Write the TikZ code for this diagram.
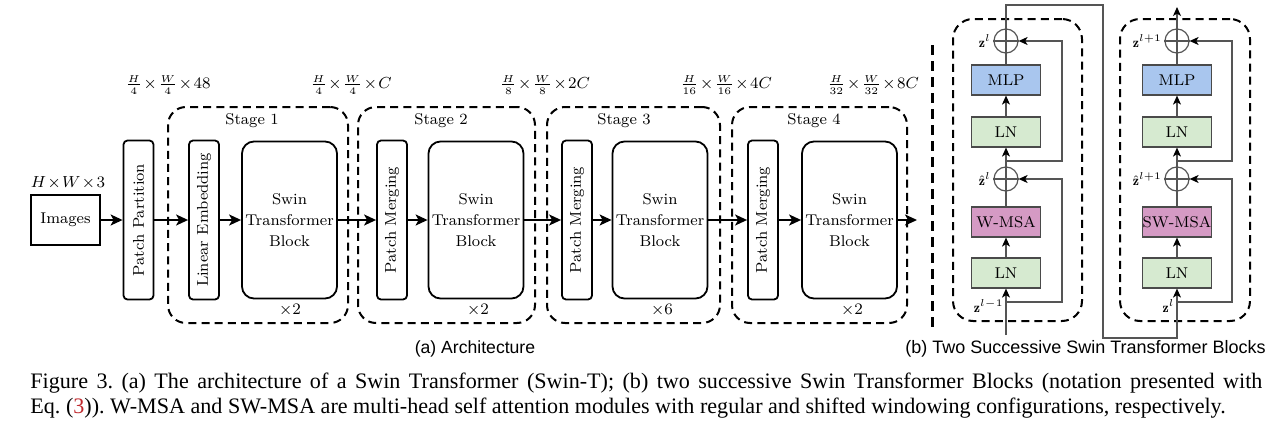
\documentclass[tikz,border=0pt]{standalone}
\usepackage{fontspec}
\newfontfamily\capfont{Liberation Serif}
\newfontfamily\subfont{Liberation Sans}
\usetikzlibrary{arrows.meta,calc}
\definecolor{mlpfill}{HTML}{A9C6EE}
\definecolor{lnfill}{HTML}{D6EAD0}
\definecolor{msafill}{HTML}{D59AC4}
\definecolor{bordergray}{HTML}{4A4A4A}
\definecolor{linegray}{HTML}{555555}
\definecolor{refred}{HTML}{C0282D}
\newcommand\tightmath[1]{$\medmuskip=1.5mu #1$}
\frenchspacing
\begin{document}
\begin{tikzpicture}[x=0.5pt,y=-0.5pt,
  diag/.style={font=\fontsize{7.8}{10.5}\selectfont},
  dimlabel/.style={font=\fontsize{7.6}{9}\selectfont, inner sep=0pt},
  imgbox/.style={draw, line width=0.9pt, minimum width=34.5pt, minimum height=25pt, inner sep=0pt, diag},
  tallbox/.style={draw, line width=0.9pt, rounded corners=2pt, rotate=90, minimum width=79.5pt, minimum height=15pt, inner sep=0pt, diag},
  swinbox/.style={draw, line width=0.9pt, rounded corners=6pt, minimum width=47.5pt, minimum height=78.5pt, inner sep=0pt, align=center, diag},
  stagebox/.style={draw, line width=1pt, dash pattern=on 4pt off 2.6pt, rounded corners=9pt, minimum height=108pt, inner sep=0pt},
  mainarrow/.style={line width=0.9pt, -{Stealth[length=6pt,width=5.5pt,inset=1.5pt]}},
  blk/.style={draw=bordergray, line width=0.6pt, minimum width=34.5pt, minimum height=15pt, inner sep=0pt, font=\fontsize{7.8}{9}\selectfont},
  addnode/.style={circle, draw=linegray, line width=0.6pt, minimum size=12pt, inner sep=0pt},
  flow/.style={draw=linegray, line width=0.6pt},
  flowarrow/.style={flow, -{Stealth[length=4.5pt,width=4pt,inset=1.2pt,color=black]}},
  blockdash/.style={draw, line width=1pt, dash pattern=on 4pt off 2.6pt, rounded corners=10pt, minimum width=64.5pt, minimum height=151pt, inner sep=0pt},
  zlabel/.style={font=\fontsize{7}{8}\selectfont, inner sep=1pt},
  sublabel/.style={inner sep=0pt},
]
\fill[white] (0,0) rectangle (1282,428);
\path[use as bounding box] (0,0) rectangle (1282,428);

% ---------- (a) Architecture ----------
\node[stagebox, minimum width=90pt]   (st1) at (258,215) {};
\node[stagebox, minimum width=88.5pt] (st2) at (446.5,215) {};
\node[stagebox, minimum width=86.5pt] (st3) at (633.5,215) {};
\node[stagebox, minimum width=87.5pt] (st4) at (819.5,215) {};
\node[diag] (st1l) at (252,121) {Stage 1};
\node[diag] (st2l) at (441,121) {Stage 2};
\node[diag] (st3l) at (624,121) {Stage 3};
\node[diag] (st4l) at (814,121) {Stage 4};

\node[imgbox] (img) at (65.5,220) {Images};
\node[inner sep=0pt, font=\fontsize{8.2}{9}\selectfont] (imgdim) at (68,183) {\tightmath{H\times W\times 3}};
\node[tallbox] (pp) at (138.5,220) {Patch Partition};
\node[tallbox] (le) at (204,220) {Linear Embedding};
\node[swinbox] (s1) at (289.5,220) {Swin\\Transformer\\Block};
\node[tallbox] (pm2) at (392,220) {Patch Merging};
\node[swinbox] (s2) at (476,220) {Swin\\Transformer\\Block};
\node[tallbox] (pm3) at (577,220) {Patch Merging};
\node[swinbox] (s3) at (660,220) {Swin\\Transformer\\Block};
\node[tallbox] (pm4) at (763,220) {Patch Merging};
\node[swinbox] (s4) at (849.5,220) {Swin\\Transformer\\Block};
\coordinate (out) at (917,220);

\node[diag] (r1) at (290,310) {$\times 2$};
\node[diag] (r2) at (478,310) {$\times 2$};
\node[diag] (r3) at (662,310) {$\times 6$};
\node[diag] (r4) at (852,310) {$\times 2$};

\node[dimlabel] (d1) at (168,85) {\tightmath{\frac{H}{4}\times\frac{W}{4}\times 48}};
\node[dimlabel] (d2) at (351,85) {\tightmath{\frac{H}{4}\times\frac{W}{4}\times C}};
\node[dimlabel] (d3) at (545,85) {\tightmath{\frac{H}{8}\times\frac{W}{8}\times 2C}};
\node[dimlabel] (d4) at (726,85) {\tightmath{\frac{H}{16}\times\frac{W}{16}\times 4C}};
\node[dimlabel] (d5) at (873,85) {\tightmath{\frac{H}{32}\times\frac{W}{32}\times 8C}};

\draw[mainarrow] (img) -- (pp);
\draw[mainarrow] (pp) -- (le);
\draw[mainarrow] (le) -- (s1);
\draw[mainarrow] (s1) -- (pm2);
\draw[mainarrow] (pm2) -- (s2);
\draw[mainarrow] (s2) -- (pm3);
\draw[mainarrow] (pm3) -- (s3);
\draw[mainarrow] (s3) -- (pm4);
\draw[mainarrow] (pm4) -- (s4);
\draw[mainarrow] (s4) -- (out);

\node[sublabel, font=\subfont\fontsize{8.8}{10}\selectfont] (suba) at (475,349) {(a) Architecture};

% separator
\coordinate (sepT) at (932,45);
\coordinate (sepB) at (932,327);
\draw[line width=1.5pt, dash pattern=on 5pt off 3pt] (sepT) -- (sepB);

% ---------- (b) Two successive blocks ----------
\node[blockdash] (bdA) at (1017.5,170) {};
\node[blockdash, minimum width=65pt] (bdB) at (1185,170) {};

% left block
\node[blk, fill=mlpfill] (mlpA) at (1006,80) {MLP};
\node[blk, fill=lnfill]  (lnA2) at (1006,132) {LN};
\node[blk, fill=msafill] (msaA) at (1006,222) {W-MSA};
\node[blk, fill=lnfill]  (lnA1) at (1006,273) {LN};
\node[addnode] (addA2) at (1006,41) {};
\node[addnode] (addA1) at (1006,179) {};
\draw[flow] (addA2.north) -- (addA2.south) (addA2.west) -- (addA2.east);
\draw[flow] (addA1.north) -- (addA1.south) (addA1.west) -- (addA1.east);
\node[zlabel, anchor=east] (zA2) at (addA2.west) {$\mathbf{z}^{l}$};
\node[zlabel, anchor=east] (zA1) at (addA1.west) {$\hat{\mathbf{z}}^{l}$};

\coordinate (inA) at (1006,335);
\coordinate (brA1) at (1006,302);
\coordinate (skA1) at (1062,302);
\coordinate (brA2) at (1006,161);
\coordinate (skA2) at (1062,161);
\node[zlabel, anchor=east] (zA0) at (1006,306) {$\mathbf{z}^{l-1}$};

\draw[flowarrow] (inA) -- (lnA1);
\draw[flowarrow] (lnA1) -- (msaA);
\draw[flow] (msaA) -- (addA1);
\draw[flowarrow] (addA1) -- (lnA2);
\draw[flowarrow] (lnA2) -- (mlpA);
\draw[flow] (mlpA) -- (addA2);
\draw[flowarrow] (brA1) -- (skA1) |- (addA1.east);
\draw[flowarrow] (brA2) -- (skA2) |- (addA2.east);

% route between blocks
\coordinate (rt1) at (1006,5);
\coordinate (rt2) at (1103,5);
\coordinate (rt3) at (1103,338);
\coordinate (rt4) at (1177,338);

% right block
\node[blk, fill=mlpfill] (mlpB) at (1177,80) {MLP};
\node[blk, fill=lnfill]  (lnB2) at (1177,132) {LN};
\node[blk, fill=msafill] (msaB) at (1177,222) {SW-MSA};
\node[blk, fill=lnfill]  (lnB1) at (1177,273) {LN};
\node[addnode] (addB2) at (1177,41) {};
\node[addnode] (addB1) at (1177,179) {};
\draw[flow] (addB2.north) -- (addB2.south) (addB2.west) -- (addB2.east);
\draw[flow] (addB1.north) -- (addB1.south) (addB1.west) -- (addB1.east);
\node[zlabel, anchor=east] (zB2) at (addB2.west) {$\mathbf{z}^{l+1}$};
\node[zlabel, anchor=east] (zB1) at (addB1.west) {$\hat{\mathbf{z}}^{l+1}$};
\node[zlabel, anchor=east] (zB0) at (1177,306) {$\mathbf{z}^{l}$};

\coordinate (brB1) at (1177,302);
\coordinate (skB1) at (1232,302);
\coordinate (brB2) at (1177,161);
\coordinate (skB2) at (1232,161);
\coordinate (outB) at (1177,7);

\draw[flowarrow] (addA2) -- (rt1) -- (rt2) -- (rt3) -- (rt4) -- (lnB1);
\draw[flowarrow] (lnB1) -- (msaB);
\draw[flow] (msaB) -- (addB1);
\draw[flowarrow] (addB1) -- (lnB2);
\draw[flowarrow] (lnB2) -- (mlpB);
\draw[flow] (mlpB) -- (addB2);
\draw[flowarrow] (addB2) -- (outB);
\draw[flowarrow] (brB1) -- (skB1) |- (addB1.east);
\draw[flowarrow] (brB2) -- (skB2) |- (addB2.east);

\node[sublabel, font=\subfont\fontsize{9}{10}\selectfont] (subb) at (1085.5,349) {(b) Two Successive Swin Transformer Blocks};

% ---------- caption ----------
\node[anchor=west, inner sep=0pt, font=\capfont\fontsize{11.05}{13}\selectfont] (cap1) at (30,383)
  {\makebox[616pt][s]{Figure 3. (a) The architecture of a Swin Transformer (Swin-T); (b) two successive Swin Transformer Blocks (notation presented with}};
\node[anchor=west, inner sep=0pt, font=\capfont\fontsize{11.05}{13}\selectfont] (cap2) at (30,408)
  {Eq. (\textcolor{refred}{3})). W-MSA and SW-MSA are multi-head self attention modules with regular and shifted windowing configurations, respectively.};
\end{tikzpicture}
\end{document}
